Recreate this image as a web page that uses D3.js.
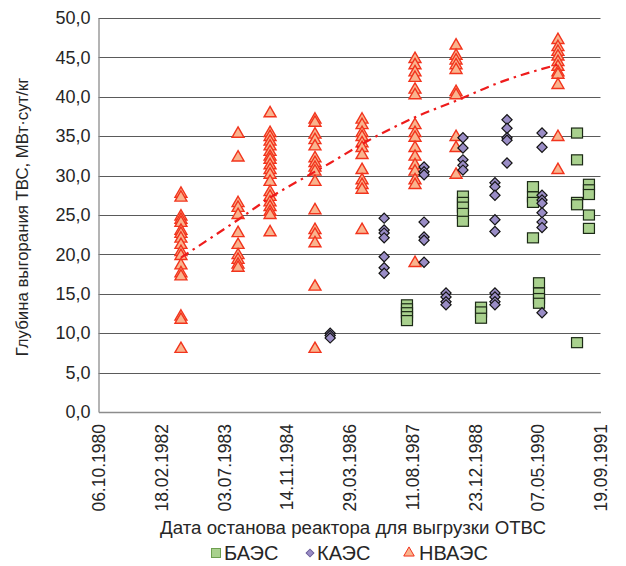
<!DOCTYPE html>
<html lang="ru">
<head>
  <meta charset="UTF-8">
  <title>Глубина выгорания ТВС</title>
  <script src="https://d3js.org/d3.v7.min.js"></script>
  <style>
    body { margin: 0; background: #fff; }
    text { font-family: "Liberation Sans", Arial, sans-serif; fill: #262626; }
  </style>
</head>
<body>
  <div id="root"></div>
  <script>
    // даты останова (по оси X) и значения выгорания
    const baesDates = ['30.06.1987', '18.09.1988', '09.02.1989', '30.03.1990', '17.05.1990', '16.03.1991', '19.06.1991'];
    const baesValues = [
      [13.6, 13.1, 12.6, 12.1, 11.6],
      [27.4, 26.6, 26.0, 25.2, 24.2],
      [13.3, 12.7, 11.9],
      [28.6, 27.3, 26.6, 22.1],
      [16.4, 15.1, 14.4, 13.8],
      [35.4, 32.0, 26.6, 26.3, 8.8],
      [28.9, 28.2, 27.6, 25.0, 23.3]
    ];

    const kaesDates = ['26.10.1985', '30.12.1986', '13.11.1987', '06.05.1988', '18.09.1988', '31.05.1989', '04.09.1989', '10.06.1990'];
    const kaesValues = [
      [10.0, 9.7, 9.4],
      [24.6, 23.1, 22.7, 22.1, 19.7, 18.3, 17.6],
      [31.1, 30.5, 30.1, 24.1, 22.2, 21.8, 19.0],
      [15.1, 14.6, 14.0, 13.6],
      [34.8, 33.5, 32.0, 31.3, 30.7],
      [29.1, 28.6, 27.5, 24.4, 22.9, 15.1, 14.6, 14.0, 13.6],
      [37.1, 36.0, 34.8, 34.5, 31.6],
      [35.4, 33.6, 27.5, 26.9, 26.5, 25.3, 24.1, 23.4, 12.6]
    ];

    const nvaesDates = ['25.07.1982', '23.10.1983', '04.07.1984', '27.06.1985', '07.07.1986', '02.09.1987', '25.07.1988', '15.10.1990'];
    const nvaesValues = [
      [27.7, 27.2, 24.8, 24.4, 24.0, 23.0, 22.6, 22.0, 21.2, 20.3, 19.8, 18.6, 17.6, 17.2, 12.1, 11.7, 8.0],
      [35.3, 32.3, 26.5, 25.9, 25.0, 22.7, 21.2, 19.9, 19.3, 18.7, 18.3],
      [37.9, 35.4, 34.9, 34.3, 33.7, 33.0, 32.4, 32.0, 31.3, 30.7, 30.1, 29.2, 27.9, 27.3, 26.6, 26.0, 25.4, 25.0, 22.8],
      [37.1, 36.7, 35.2, 34.5, 33.7, 32.2, 31.6, 31.0, 30.5, 29.2, 25.6, 23.1, 22.5, 21.4, 15.9, 8.0],
      [37.1, 36.4, 35.4, 34.9, 34.1, 33.5, 32.6, 30.7, 29.4, 28.8, 28.2, 23.1],
      [44.8, 44.0, 43.1, 42.4, 40.9, 40.2, 36.4, 35.4, 34.8, 33.5, 32.4, 31.3, 30.5, 29.4, 28.8, 18.9],
      [46.5, 45.2, 44.6, 44.0, 43.4, 40.6, 40.2, 34.9, 33.5, 30.1],
      [47.2, 46.3, 45.7, 45.1, 44.4, 43.8, 43.1, 42.8, 41.5, 34.9, 30.7]
    ];

    // линия тренда НВАЭС
    const trendDates = ['25.07.1982', '23.10.1983', '04.07.1984', '27.06.1985', '26.10.1985', '07.07.1986', '02.09.1987', '25.07.1988', '31.05.1989', '15.10.1990'];
    const trendValues = [19.6, 24.4, 27.2, 30.5, 31.6, 34.0, 37.4, 39.5, 41.6, 44.1];

    const xTicks = ['06.10.1980', '18.02.1982', '03.07.1983', '14.11.1984', '29.03.1986', '11.08.1987', '23.12.1988', '07.05.1990', '19.09.1991'];
    const yTicks = [0, 5, 10, 15, 20, 25, 30, 35, 40, 45, 50];

    const parse = d3.utcParse('%d.%m.%Y');
    const fmtDate = d3.utcFormat('%d.%m.%Y');
    const ru = d3.formatLocale({ decimal: ',', thousands: ' ', grouping: [3], currency: ['', ''] });
    const fmtY = ru.format('.1f');

    const width = 626, height = 566;
    const plotLeft = 98.5, plotRight = 600.5, plotTop = 18, plotBottom = 412;

    const svg = d3.select('#root').append('svg').attr('width', width).attr('height', height);

    const x = d3.scaleUtc().domain([parse(xTicks[0]), parse(xTicks[xTicks.length - 1])]).range([plotLeft, plotRight]);
    const y = d3.scaleLinear().domain([0, 50]).range([plotBottom, plotTop]);

    // горизонтальная сетка
    svg.append('g').selectAll('line').data(yTicks.filter(d => d > 0)).enter()
      .append('line')
      .attr('x1', plotLeft).attr('x2', plotRight)
      .attr('y1', d => Math.round(y(d)) + 0.5).attr('y2', d => Math.round(y(d)) + 0.5)
      .attr('stroke', '#5a5a5a').attr('stroke-width', 1);

    // ось Y
    const yAxis = svg.append('g').attr('transform', `translate(${plotLeft},0)`)
      .call(d3.axisLeft(y).tickValues(yTicks).tickFormat(fmtY).tickSize(0).tickPadding(8));
    yAxis.select('.domain').attr('stroke', '#8c8c8c').attr('stroke-width', 1.3);
    yAxis.selectAll('text').attr('font-size', 18).style('fill', '#262626');

    // ось X
    const xAxis = svg.append('g').attr('transform', `translate(0,${plotBottom})`)
      .call(d3.axisBottom(x).tickValues(xTicks.map(parse)).tickFormat(fmtDate).tickSize(0));
    xAxis.select('.domain').attr('stroke', '#8c8c8c').attr('stroke-width', 1.3);
    xAxis.selectAll('text')
      .attr('font-size', 17.5).style('fill', '#262626')
      .attr('text-anchor', 'end')
      .attr('transform', 'rotate(-90)')
      .attr('x', -12).attr('y', 0).attr('dy', '0.35em');

    function flatten(dates, values) {
      const out = [];
      dates.forEach((d, i) => values[i].forEach(v => out.push({ date: parse(d), value: v })));
      return out;
    }

    const tri = d3.symbol().type(d3.symbolTriangle).size(62);
    const dia = d3.symbol().type(d3.symbolSquare).size(52);

    // НВАЭС
    svg.append('g').selectAll('path').data(flatten(nvaesDates, nvaesValues)).enter()
      .append('path')
      .attr('d', tri)
      .attr('transform', d => `translate(${x(d.date)},${y(d.value)})`)
      .attr('fill', '#f9b48e').attr('stroke', '#f2341d').attr('stroke-width', 1.4);

    // БАЭС
    svg.append('g').selectAll('rect').data(flatten(baesDates, baesValues)).enter()
      .append('rect')
      .attr('x', d => x(d.date) - 5.5).attr('y', d => y(d.value) - 5)
      .attr('width', 11).attr('height', 10)
      .attr('fill', '#a9d18e').attr('stroke', '#1c2a16').attr('stroke-width', 1.2);

    // КАЭС
    svg.append('g').selectAll('path').data(flatten(kaesDates, kaesValues)).enter()
      .append('path')
      .attr('d', dia)
      .attr('transform', d => `translate(${x(d.date)},${y(d.value)}) rotate(45)`)
      .attr('fill', '#9a8dc6').attr('stroke', '#151515').attr('stroke-width', 1.2);

    // тренд
    const trend = trendDates.map((d, i) => ({ date: parse(d), value: trendValues[i] }));
    svg.append('path')
      .datum(trend)
      .attr('d', d3.line().x(d => x(d.date)).y(d => y(d.value)).curve(d3.curveMonotoneX))
      .attr('fill', 'none')
      .attr('stroke', '#ee1c1c').attr('stroke-width', 2.2)
      .attr('stroke-dasharray', '9 5 2.5 5');

    // подписи осей
    svg.append('text')
      .attr('transform', `translate(28,217) rotate(-90)`)
      .attr('text-anchor', 'middle')
      .attr('font-size', 16.8)
      .text('Глубина выгорания ТВС, МВт·сут/кг');

    svg.append('text')
      .attr('x', 353).attr('y', 534)
      .attr('text-anchor', 'middle')
      .attr('font-size', 18.7)
      .text('Дата останова реактора для выгрузки ОТВС');

    // легенда
    const legend = svg.append('g').attr('transform', 'translate(0,553)');
    legend.append('rect').attr('x', 211.5).attr('y', -4.5).attr('width', 9).attr('height', 9)
      .attr('fill', '#a9d18e').attr('stroke', '#6e9f50').attr('stroke-width', 1);
    legend.append('text').attr('x', 224).attr('dy', '0.36em').attr('font-size', 20).text('БАЭС');
    legend.append('path').attr('d', d3.symbol().type(d3.symbolSquare).size(30))
      .attr('transform', 'translate(310,0) rotate(45)')
      .attr('fill', '#9a8dc6').attr('stroke', '#6a5c9a').attr('stroke-width', 1);
    legend.append('text').attr('x', 317).attr('dy', '0.36em').attr('font-size', 20).text('КАЭС');
    legend.append('path').attr('d', d3.symbol().type(d3.symbolTriangle).size(48))
      .attr('transform', 'translate(409,0)')
      .attr('fill', '#f9b48e').attr('stroke', '#f2341d').attr('stroke-width', 1);
    legend.append('text').attr('x', 419).attr('dy', '0.36em').attr('font-size', 20).text('НВАЭС');
  </script>
</body>
</html>
